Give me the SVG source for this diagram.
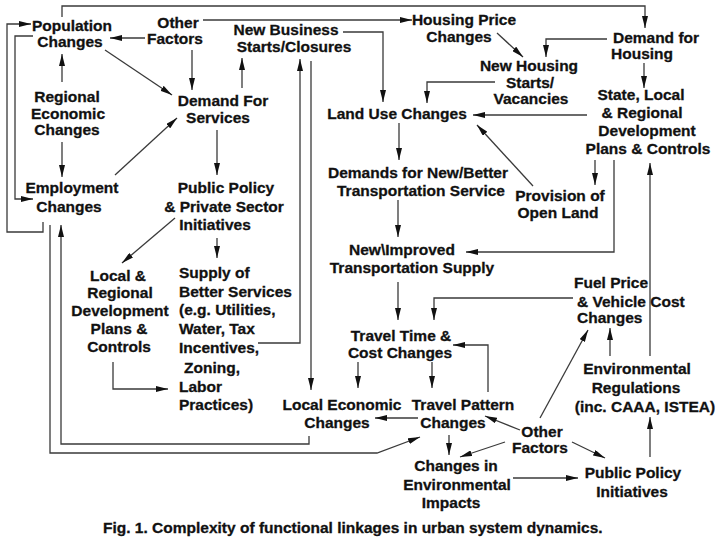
<svg xmlns="http://www.w3.org/2000/svg" width="720" height="540" viewBox="0 0 720 540">
<defs>
<style>
.t{font-family:"Liberation Sans",Arial,sans-serif;font-weight:bold;font-size:15.5px;fill:#111;stroke:#111;stroke-width:0.3;text-anchor:middle}
.s{text-anchor:start}
.c path{fill:none;stroke:#3a3a3a;stroke-width:1.3;marker-end:url(#ah)}
</style>
<marker id="ah" viewBox="0 0 12 6" markerWidth="12" markerHeight="6" refX="12" refY="3" markerUnits="userSpaceOnUse" orient="auto">
<path d="M0,0 L12,3 L0,6 Z" fill="#111"/>
</marker>
</defs>
<rect width="720" height="540" fill="#fff"/>
<g class="c" id="connectors">
<path d="M62,17 V6 H645 V28"/>
<path d="M203,20 H412"/>
<path d="M43,222 V232 H7 V24 H31"/>
<path d="M33,36 H15 V199 H33"/>
<path d="M62,82 V54"/>
<path d="M62,142 V177"/>
<path d="M145,38 H110"/>
<path d="M192,50 V90"/>
<path d="M105,50 L172,95"/>
<path d="M115,175 L177,118"/>
<path d="M217,130 V175"/>
<path d="M242,88 V58"/>
<path d="M175,218 L122,263"/>
<path d="M217,238 V258"/>
<path d="M113,362 V389 H168"/>
<path d="M258,343 H300 V59"/>
<path d="M311,61 V390"/>
<path d="M343,32 H383 V102"/>
<path d="M497,33 L523,57"/>
<path d="M495,82 H427 V103"/>
<path d="M607,39 H546 V57"/>
<path d="M644,63 V88"/>
<path d="M587,115 H473"/>
<path d="M533,186 L477,125"/>
<path d="M595,160 V185"/>
<path d="M614,160 V252 H466"/>
<path d="M650,356 V163"/>
<path d="M399,123 V160"/>
<path d="M398,200 V237"/>
<path d="M398,282 V320"/>
<path d="M573,298 H434 V320"/>
<path d="M488,392 V345 H453"/>
<path d="M358,362 V388"/>
<path d="M432,362 V388"/>
<path d="M418,418 H375"/>
<path d="M449,435 V455"/>
<path d="M520,430 L485,416"/>
<path d="M505,442 L460,457"/>
<path d="M572,442 L605,458"/>
<path d="M540,418 L588,330"/>
<path d="M610,356 V328"/>
<path d="M650,457 V417"/>
<path d="M513,478 H578"/>
<path d="M50,225 V453 H377 L420,437"/>
<path d="M309,436 V444 H61 V225"/>
</g>
<g id="n_pop"><text class="t"><tspan x="72" y="31">Population</tspan><tspan x="70" y="47">Changes</tspan></text></g>
<g id="n_other1"><text class="t"><tspan x="178" y="28">Other</tspan><tspan x="175" y="44">Factors</tspan></text></g>
<g id="n_newbiz"><text class="t"><tspan x="286" y="35">New Business</tspan><tspan x="294" y="52">Starts/Closures</tspan></text></g>
<g id="n_hprice"><text class="t"><tspan x="464" y="25">Housing Price</tspan><tspan x="459" y="42">Changes</tspan></text></g>
<g id="n_dhousing"><text class="t"><tspan x="656" y="43">Demand for</tspan><tspan x="642" y="59">Housing</tspan></text></g>
<g id="n_newhousing"><text class="t"><tspan x="529" y="71">New Housing</tspan><tspan x="530" y="88">Starts/</tspan><tspan x="531" y="104">Vacancies</tspan></text></g>
<g id="n_regecon"><text class="t"><tspan x="67" y="102">Regional</tspan><tspan x="68" y="119">Economic</tspan><tspan x="67" y="135">Changes</tspan></text></g>
<g id="n_dserv"><text class="t"><tspan x="223" y="106">Demand For</tspan><tspan x="218" y="123">Services</tspan></text></g>
<g id="n_landuse"><text class="t"><tspan x="397" y="119">Land Use Changes</tspan></text></g>
<g id="n_state"><text class="t"><tspan x="641" y="100">State, Local</tspan><tspan x="642" y="118">&amp; Regional</tspan><tspan x="647" y="136">Development</tspan><tspan x="648" y="154">Plans &amp; Controls</tspan></text></g>
<g id="n_employ"><text class="t"><tspan x="72" y="193">Employment</tspan><tspan x="69" y="212">Changes</tspan></text></g>
<g id="n_pubpol"><text class="t"><tspan x="226" y="193">Public Policy</tspan><tspan x="224" y="212">&amp; Private Sector</tspan><tspan x="215" y="230">Initiatives</tspan></text></g>
<g id="n_demtrans"><text class="t"><tspan x="418" y="178">Demands for New/Better</tspan><tspan x="421" y="196">Transportation Service</tspan></text></g>
<g id="n_open"><text class="t"><tspan x="560" y="201">Provision of</tspan><tspan x="558" y="218">Open Land</tspan></text></g>
<g id="n_newimp"><text class="t"><tspan x="402" y="255">New\Improved</tspan><tspan x="412" y="273">Transportation Supply</tspan></text></g>
<g id="n_localplans"><text class="t"><tspan x="118" y="281">Local &amp;</tspan><tspan x="120" y="298">Regional</tspan><tspan x="120" y="316">Development</tspan><tspan x="119" y="334">Plans &amp;</tspan><tspan x="119" y="352">Controls</tspan></text></g>
<g id="n_supply"><text class="t s"><tspan x="179" y="278">Supply of</tspan><tspan x="179" y="297">Better Services</tspan><tspan x="179" y="315">(e.g. Utilities,</tspan><tspan x="179" y="334">Water, Tax</tspan><tspan x="179" y="353">Incentives,</tspan><tspan x="184" y="373">Zoning,</tspan><tspan x="179" y="392">Labor</tspan><tspan x="179" y="410">Practices)</tspan></text></g>
<g id="n_fuel"><text class="t s"><tspan x="574" y="288">Fuel Price</tspan><tspan x="577" y="307">&amp; Vehicle Cost</tspan><tspan x="577" y="323">Changes</tspan></text></g>
<g id="n_travtime"><text class="t"><tspan x="401" y="341">Travel Time &amp;</tspan><tspan x="400" y="358">Cost Changes</tspan></text></g>
<g id="n_envreg"><text class="t"><tspan x="637" y="374">Environmental</tspan><tspan x="636" y="393">Regulations</tspan><tspan x="645" y="412">(inc. CAAA, ISTEA)</tspan></text></g>
<g id="n_localecon"><text class="t"><tspan x="342" y="410">Local Economic</tspan><tspan x="337" y="428">Changes</tspan></text></g>
<g id="n_travpat"><text class="t"><tspan x="463" y="410">Travel Pattern</tspan><tspan x="453" y="428">Changes</tspan></text></g>
<g id="n_other2"><text class="t"><tspan x="542" y="437">Other</tspan><tspan x="540" y="453">Factors</tspan></text></g>
<g id="n_envimp"><text class="t"><tspan x="456" y="471">Changes in</tspan><tspan x="457" y="490">Environmental</tspan><tspan x="451" y="508">Impacts</tspan></text></g>
<g id="n_pubpol2"><text class="t"><tspan x="633" y="478">Public Policy</tspan><tspan x="632" y="497">Initiatives</tspan></text></g>
<g id="caption"><text class="t s" x="103" y="533">Fig. 1. Complexity of functional linkages in urban system dynamics.</text></g>
</svg>
